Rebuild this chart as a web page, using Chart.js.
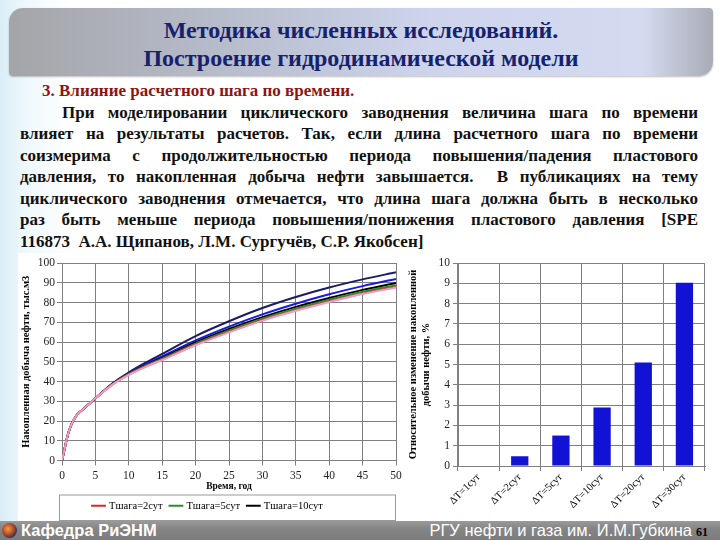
<!DOCTYPE html>
<html>
<head>
<meta charset="utf-8">
<script src="https://cdn.jsdelivr.net/npm/chart.js@4"></script>
<style>
  html, body { margin: 0; padding: 0; }
  body {
    width: 720px; height: 540px; position: relative; overflow: hidden;
    background: linear-gradient(to right, #d9eef7 0px, #eef8fc 25px, #ffffff 70px);
    font-family: "Liberation Serif", "Times New Roman", serif;
  }
  #banner {
    position: absolute; left: 9px; top: 8px; width: 704px; height: 68px;
    border-radius: 14px 4px 14px 4px;
    background: linear-gradient(to right, #a4a5a9 0%, #b7bccb 30%, #cdd4ec 60%, #d4daf0 90%, #a9acb6 100%);
    box-shadow: 0 1px 2px rgba(0,0,0,0.25);
  }
  #banner div {
    position: absolute; left: 0; width: 100%; text-align: center;
    color: #16226e; font-weight: bold; font-size: 24px;
    font-family: "Liberation Serif", "Times New Roman", serif;
  }
  .linea {
    position: absolute; left: 20px; width: 678px; height: 21.5px; line-height: 21.5px;
    font-family: "Liberation Serif", "Times New Roman", serif;
    font-weight: bold; font-size: 17px; color: #111;
    text-align: justify; text-align-last: justify;
  }
  .box { position: absolute; background: #fff; }
  #pie {
    position: absolute; left: 0; top: 521px; width: 720px; height: 19px;
    background: linear-gradient(to bottom, #9a9a9a 0%, #858585 40%, #7c7c7c 100%);
  }
</style>
</head>
<body>
<div id="banner">
  <div style="top:9px">Методика численных исследований.</div>
  <div style="top:37px">Построение гидродинамической модели</div>
</div>

<div class="linea" style="top:80px;left:42px;width:auto;color:#8b1414;text-align:left;text-align-last:left">3. Влияние расчетного шага по времени.</div>
<div class="linea" style="top:101.5px;left:62px;width:636px">При моделировании циклического заводнения величина шага по времени</div>
<div class="linea" style="top:123px">влияет на результаты расчетов. Так, если длина расчетного шага по времени</div>
<div class="linea" style="top:144.5px">соизмерима с продолжительностью периода повышения/падения пластового</div>
<div class="linea" style="top:166px">давления, то накопленная добыча нефти завышается.&nbsp; В публикациях на тему</div>
<div class="linea" style="top:187.5px">циклического заводнения отмечается, что длина шага должна быть в несколько</div>
<div class="linea" style="top:209px">раз быть меньше периода повышения/понижения пластового давления [SPE</div>
<div class="linea" style="top:230.5px;width:auto;text-align:left;text-align-last:left">116873&nbsp; А.А. Щипанов, Л.М. Сургучёв, С.Р. Якобсен]</div>

<div class="box" style="left:18px;top:253px;width:392px;height:268px"><canvas id="graficoLineas"></canvas></div>
<div class="box" style="left:405px;top:253px;width:312px;height:268px"><canvas id="graficoBarras"></canvas></div>

<div id="pie">
  <div style="position:absolute;left:2px;top:2px;width:15px;height:15px;border-radius:50%;background:radial-gradient(circle at 40% 40%, #f0a040 0, #c0502a 40%, #203060 75%)"></div>
  <div style="position:absolute;left:21px;top:0;color:#fff;font:bold 16.5px 'Liberation Sans',Arial,sans-serif;line-height:19px">Кафедра РиЭНМ</div>
  <div style="position:absolute;right:28px;top:0;color:#fff;font:16.5px 'Liberation Sans',Arial,sans-serif;line-height:19px">РГУ нефти и газа им. И.М.Губкина</div>
  <div style="position:absolute;right:12px;top:3px;color:#000;font:bold 12px 'Liberation Serif',serif;line-height:17px">61</div>
</div>

<script>
// Накопленная добыча нефти, тыс.м3 (по годам)
const anos = [0, 1, 2, 3, 4, 5, 7.5, 10, 12.5, 15, 20, 25, 30, 35, 40, 45, 50];
const paso1 = [0, 14.5, 22, 25.5, 28.5, 31.5, 38.3, 43.4, 47.4, 50.9, 58.4, 64.9, 70.8, 75.8, 80.3, 84.3, 87.6];
const paso2 = [0, 14.5, 22, 25.5, 28.5, 31.5, 38.4, 43.5, 47.6, 51.1, 58.6, 65.1, 71.0, 76.0, 80.5, 84.5, 87.9];
const paso5 = [0, 14.5, 22, 25.5, 28.5, 31.5, 38.5, 43.8, 48.0, 51.6, 59.2, 65.8, 71.8, 76.9, 81.4, 85.4, 88.8];
const paso10 = [0, 14.5, 22, 25.5, 28.5, 31.5, 38.6, 44.0, 48.3, 52.0, 59.8, 66.6, 72.6, 77.8, 82.3, 86.4, 89.9];
const paso20 = [0, 14.5, 22, 25.5, 28.5, 31.5, 38.7, 44.3, 48.8, 52.7, 60.8, 67.8, 74.0, 79.4, 84.2, 88.3, 91.9];
const paso30 = [0, 14.5, 22, 25.5, 28.5, 31.5, 38.9, 44.6, 49.5, 54.0, 63.0, 70.5, 77.2, 82.8, 87.6, 91.7, 95.3];
const yTicksLineas = [0, 10, 20, 30, 40, 50, 60, 70, 80, 90, 100];

// Относительное изменение накопленной добычи, %
const categorias = ['ΔT=1сут', 'ΔT=2сут', 'ΔT=5сут', 'ΔT=10сут', 'ΔT=20сут', 'ΔT=30сут'];
const cambios = [0, 0.48, 1.5, 2.88, 5.1, 9.03];

const serif = "'Liberation Serif', 'Times New Roman', serif";
const gris = '#808080';

function puntos(vals) {
    return anos.map((a, i) => ({ x: a, y: vals[i] }));
}

function serie(nombre, vals, color) {
    return {
        label: nombre,
        data: puntos(vals),
        borderColor: color,
        backgroundColor: color,
        borderWidth: 2,
        pointRadius: 0,
        cubicInterpolationMode: 'monotone',
        fill: false
    };
}

// рамка вокруг легенды
const marcoLeyenda = {
    id: 'marcoLeyenda',
    afterDraw(chart) {
        const lg = chart.legend;
        const area = chart.chartArea;
        if (!lg) return;
        const ctx = chart.ctx;
        ctx.save();
        ctx.strokeStyle = '#9a9a9a';
        ctx.lineWidth = 1;
        ctx.strokeRect(area.left - 2.5, lg.top + 2.5, area.right - area.left + 2, lg.height - 3);
        ctx.restore();
    }
};

new Chart(document.getElementById('graficoLineas'), {
    type: 'line',
    data: {
        datasets: [
            serie('Тшага=1сут', paso1, '#f29ac6'),
            serie('Тшага=2сут', paso2, '#d42a2a'),
            serie('Тшага=5сут', paso5, '#2f8a2f'),
            serie('Тшага=10сут', paso10, '#000000'),
            serie('Тшага=20сут', paso20, '#1a1ae0'),
            serie('Тшага=30сут', paso30, '#1c1c66')
        ]
    },
    plugins: [marcoLeyenda],
    options: {
        responsive: true,
        maintainAspectRatio: false,
        animation: false,
        layout: { padding: { top: 10, right: 14, left: 2, bottom: 0 } },
        plugins: {
            tooltip: { enabled: false },
            legend: {
                position: 'bottom',
                labels: {
                    filter: item => ['Тшага=2сут', 'Тшага=5сут', 'Тшага=10сут'].includes(item.text),
                    usePointStyle: true,
                    pointStyle: 'line',
                    boxWidth: 18,
                    padding: 8,
                    color: '#000',
                    font: { family: serif, size: 10.5 }
                }
            }
        },
        scales: {
            x: {
                type: 'linear',
                min: 0, max: 50,
                ticks: { stepSize: 5, color: '#222', font: { family: serif, size: 11.5 }, padding: 4, maxRotation: 0 },
                grid: { color: gris, tickLength: 5 },
                border: { color: gris },
                title: { display: true, text: 'Время, год', color: '#000', font: { family: serif, size: 9.5, weight: 'bold' }, padding: { top: 0, bottom: 0 } },
                afterFit(scale) { scale.height = 32; }
            },
            y: {
                min: 0, max: 100,
                afterBuildTicks(scale) { scale.ticks = yTicksLineas.map(v => ({ value: v })); },
                ticks: { color: '#222', font: { family: serif, size: 11.5 }, padding: 2 },
                grid: { color: gris, tickLength: 5 },
                border: { color: gris },
                title: { display: true, text: 'Накопленная добыча нефти, тыс.м3', color: '#000', font: { family: serif, size: 10.5, weight: 'bold' }, padding: { top: 0, bottom: 1 } },
                afterFit(scale) { scale.width = 42; }
            }
        }
    }
});

new Chart(document.getElementById('graficoBarras'), {
    type: 'bar',
    data: {
        labels: categorias,
        datasets: [{
            data: cambios,
            backgroundColor: '#1212d4',
            borderWidth: 0,
            categoryPercentage: 1,
            barPercentage: 0.42
        }]
    },
    options: {
        responsive: true,
        maintainAspectRatio: false,
        animation: false,
        layout: { padding: { top: 10, right: 12, left: 2, bottom: 0 } },
        plugins: { legend: { display: false }, tooltip: { enabled: false } },
        scales: {
            x: {
                ticks: { color: '#000', font: { family: serif, size: 10.5 }, minRotation: 45, maxRotation: 45, padding: 0 },
                grid: { color: gris, tickLength: 5, offset: true },
                border: { color: gris },
                afterFit(scale) { scale.height = 55; }
            },
            y: {
                min: 0, max: 10,
                ticks: { stepSize: 1, color: '#222', font: { family: serif, size: 11.5 }, padding: 3 },
                grid: { color: gris, tickLength: 5 },
                border: { color: gris },
                title: {
                    display: true,
                    text: ['Относительное изменение накопленной', 'добычи нефти, %'],
                    color: '#000',
                    font: { family: serif, size: 10.5, weight: 'bold', lineHeight: 1.2 },
                    padding: { top: 0, bottom: 3 }
                },
                afterFit(scale) { scale.width = 51; }
            }
        }
    }
});
</script>
</body>
</html>
